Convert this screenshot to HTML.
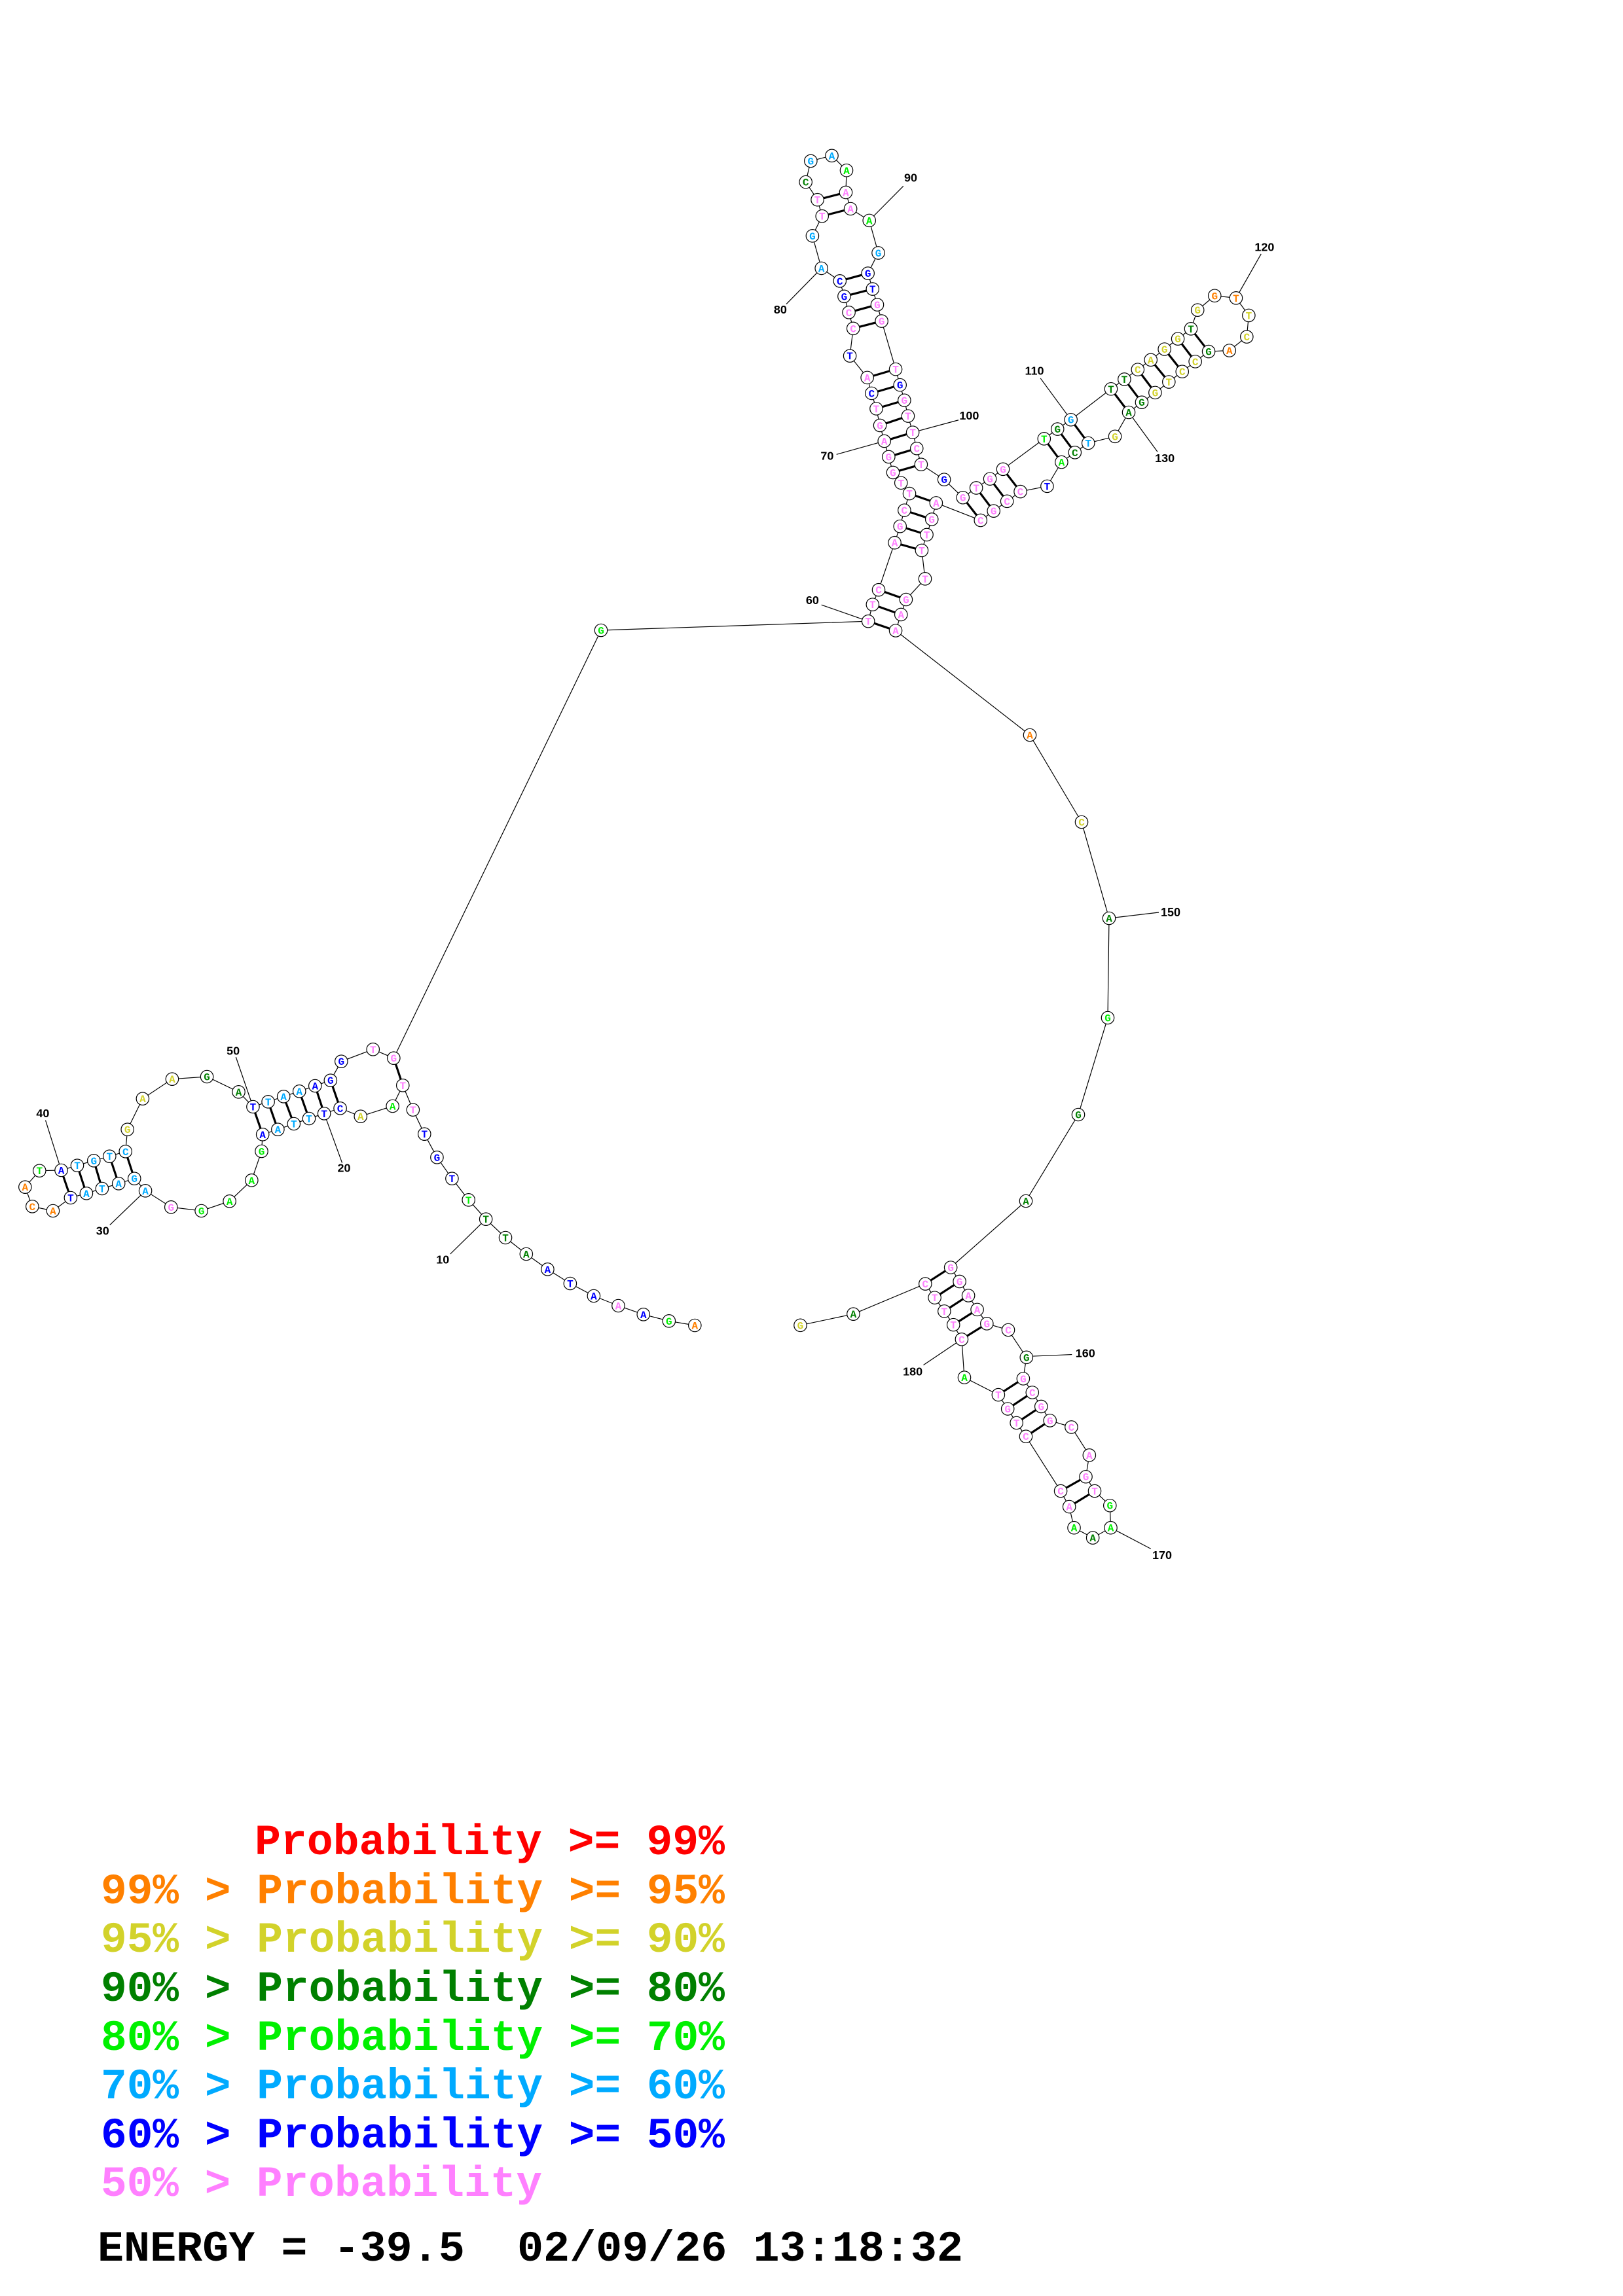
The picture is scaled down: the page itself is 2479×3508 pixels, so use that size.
<!DOCTYPE html>
<html><head><meta charset="utf-8"><style>
html,body{margin:0;padding:0;background:#fff}
svg{display:block}
circle{fill:#fff;stroke:#000;stroke-width:1.2}
.n text{font-family:"Liberation Mono",monospace;font-weight:bold;font-size:16px;text-anchor:middle}
.lb{font-family:"Liberation Sans",sans-serif;font-weight:bold;font-size:18px;text-anchor:middle;fill:#000}
.bb{fill:none;stroke:#000;stroke-width:1.2}
.bd{stroke:#000;stroke-width:3.2}
.ln{stroke:#000;stroke-width:1.2}
.o text{fill:#ff8000}.y text{fill:#d2d22a}.d text{fill:#008000}.g text{fill:#00f000}.l text{fill:#00aaff}.b text{fill:#0000ff}.p text{fill:#ff80ff}
.lg{font-family:"Liberation Mono",monospace;font-weight:bold;font-size:66px}
</style></head><body>
<svg width="2479" height="3508" viewBox="0 0 2479 3508" xmlns="http://www.w3.org/2000/svg">
<rect width="2479" height="3508" fill="#fff"/>

<!-- real-coordinate connectors -->
<polyline class="bb" points="601.3,1616.7 918,963 1326.2,949.2"/>
<polyline class="bb" points="1368.1,963.5 1573,1123 1652,1256 1694,1403 1692,1555 1647,1703 1567,1835 1452,1936.5"/>
<line class="ln" x1="648.3" y1="1732.7" x2="630.8" y2="1695.7"/>
<line class="ln" x1="1694" y1="1403" x2="1770" y2="1394"/>
<text class="lb" x="1788" y="1400">150</text>

<!-- zoom2 region -->
<g transform="translate(1150 200) scale(0.5107)">
<polyline class="bb" vector-effect="non-scaling-stroke" points="345,1467 358,1417 376,1373 424,1232 440,1183 453,1135 468,1085 443,1053 419,1022 406,975 393,928 380,881 369,831 355,785 342,738 290,673 300,591 287,543 273,495 260,449 205,411 178,314 207,255 193,206 158,153 173,90 236,74 280,118 278,184 292,233 348,268 375,365 344,426 358,473 372,520 385,569 427,713 440,760 453,806 464,853 478,902 490,950 503,998 572,1043 628,1097 668,1068 709,1041 748,1012 871,921 911,892 951,864 1071,772 1111,743 1151,714 1190,685 1231,653 1271,622 1310,592 1330,536 1381,493 1445,500 1483,552 1477,616 1425,657 1363,660 1323,690 1284,720 1244,751 1203,783 1163,812 1124,842 1083,914 1003,934 963,962 923,991 880,1063 800,1079 760,1108 720,1137 681,1165 548,1113 535,1162 520,1208 505,1255 515,1340 458,1402 443,1447 427,1495"/>
<g>
<path class="bd" vector-effect="non-scaling-stroke" d="M345,1467L427,1495M358,1417L443,1447M376,1373L458,1402M424,1232L505,1255M440,1183L520,1208M453,1135L535,1162M468,1085L548,1113M419,1022L503,998M406,975L490,950M393,928L478,902M380,881L464,853M369,831L453,806M355,785L440,760M342,738L427,713M300,591L385,569M287,543L372,520M273,495L358,473M260,449L344,426M207,255L292,233M193,206L278,184M628,1097L681,1165M668,1068L720,1137M709,1041L760,1108M748,1012L800,1079M871,921L923,991M911,892L963,962M951,864L1003,934M1071,772L1124,842M1111,743L1163,812M1151,714L1203,783M1190,685L1244,751M1231,653L1284,720M1271,622L1323,690M1310,592L1363,660"/>
<path class="ln" vector-effect="non-scaling-stroke" d="M205,1418L345,1467M250,968L393,928M100,518L205,411M450,165L348,268M615,865L478,902M860,740L951,864M1520,368L1445,500M1210,960L1124,842"/>
</g>
<g transform="translate(178 1416) scale(1.958)"><text class="lb">60</text></g>
<g transform="translate(222 984) scale(1.958)"><text class="lb">70</text></g>
<g transform="translate(82 546) scale(1.958)"><text class="lb">80</text></g>
<g transform="translate(472 152) scale(1.958)"><text class="lb">90</text></g>
<g transform="translate(647 864) scale(1.958)"><text class="lb">100</text></g>
<g transform="translate(842 729) scale(1.958)"><text class="lb">110</text></g>
<g transform="translate(1530 359) scale(1.958)"><text class="lb">120</text></g>
<g transform="translate(1232 991) scale(1.958)"><text class="lb">130</text></g>
<g class="n p" transform="translate(345 1467) scale(1.958)"><circle r="9.7"/><text y="5.5">T</text></g>
<g class="n p" transform="translate(358 1417) scale(1.958)"><circle r="9.7"/><text y="5.5">T</text></g>
<g class="n p" transform="translate(376 1373) scale(1.958)"><circle r="9.7"/><text y="5.5">C</text></g>
<g class="n p" transform="translate(424 1232) scale(1.958)"><circle r="9.7"/><text y="5.5">A</text></g>
<g class="n p" transform="translate(440 1183) scale(1.958)"><circle r="9.7"/><text y="5.5">G</text></g>
<g class="n p" transform="translate(453 1135) scale(1.958)"><circle r="9.7"/><text y="5.5">C</text></g>
<g class="n p" transform="translate(468 1085) scale(1.958)"><circle r="9.7"/><text y="5.5">T</text></g>
<g class="n p" transform="translate(443 1053) scale(1.958)"><circle r="9.7"/><text y="5.5">T</text></g>
<g class="n p" transform="translate(419 1022) scale(1.958)"><circle r="9.7"/><text y="5.5">G</text></g>
<g class="n p" transform="translate(406 975) scale(1.958)"><circle r="9.7"/><text y="5.5">G</text></g>
<g class="n p" transform="translate(393 928) scale(1.958)"><circle r="9.7"/><text y="5.5">A</text></g>
<g class="n p" transform="translate(380 881) scale(1.958)"><circle r="9.7"/><text y="5.5">G</text></g>
<g class="n p" transform="translate(369 831) scale(1.958)"><circle r="9.7"/><text y="5.5">T</text></g>
<g class="n b" transform="translate(355 785) scale(1.958)"><circle r="9.7"/><text y="5.5">C</text></g>
<g class="n p" transform="translate(342 738) scale(1.958)"><circle r="9.7"/><text y="5.5">A</text></g>
<g class="n b" transform="translate(290 673) scale(1.958)"><circle r="9.7"/><text y="5.5">T</text></g>
<g class="n p" transform="translate(300 591) scale(1.958)"><circle r="9.7"/><text y="5.5">C</text></g>
<g class="n p" transform="translate(287 543) scale(1.958)"><circle r="9.7"/><text y="5.5">C</text></g>
<g class="n b" transform="translate(273 495) scale(1.958)"><circle r="9.7"/><text y="5.5">G</text></g>
<g class="n b" transform="translate(260 449) scale(1.958)"><circle r="9.7"/><text y="5.5">C</text></g>
<g class="n l" transform="translate(205 411) scale(1.958)"><circle r="9.7"/><text y="5.5">A</text></g>
<g class="n l" transform="translate(178 314) scale(1.958)"><circle r="9.7"/><text y="5.5">G</text></g>
<g class="n p" transform="translate(207 255) scale(1.958)"><circle r="9.7"/><text y="5.5">T</text></g>
<g class="n p" transform="translate(193 206) scale(1.958)"><circle r="9.7"/><text y="5.5">T</text></g>
<g class="n d" transform="translate(158 153) scale(1.958)"><circle r="9.7"/><text y="5.5">C</text></g>
<g class="n l" transform="translate(173 90) scale(1.958)"><circle r="9.7"/><text y="5.5">G</text></g>
<g class="n l" transform="translate(236 74) scale(1.958)"><circle r="9.7"/><text y="5.5">A</text></g>
<g class="n g" transform="translate(280 118) scale(1.958)"><circle r="9.7"/><text y="5.5">A</text></g>
<g class="n p" transform="translate(278 184) scale(1.958)"><circle r="9.7"/><text y="5.5">A</text></g>
<g class="n p" transform="translate(292 233) scale(1.958)"><circle r="9.7"/><text y="5.5">A</text></g>
<g class="n g" transform="translate(348 268) scale(1.958)"><circle r="9.7"/><text y="5.5">A</text></g>
<g class="n l" transform="translate(375 365) scale(1.958)"><circle r="9.7"/><text y="5.5">G</text></g>
<g class="n b" transform="translate(344 426) scale(1.958)"><circle r="9.7"/><text y="5.5">G</text></g>
<g class="n b" transform="translate(358 473) scale(1.958)"><circle r="9.7"/><text y="5.5">T</text></g>
<g class="n p" transform="translate(372 520) scale(1.958)"><circle r="9.7"/><text y="5.5">G</text></g>
<g class="n p" transform="translate(385 569) scale(1.958)"><circle r="9.7"/><text y="5.5">G</text></g>
<g class="n p" transform="translate(427 713) scale(1.958)"><circle r="9.7"/><text y="5.5">T</text></g>
<g class="n b" transform="translate(440 760) scale(1.958)"><circle r="9.7"/><text y="5.5">G</text></g>
<g class="n p" transform="translate(453 806) scale(1.958)"><circle r="9.7"/><text y="5.5">G</text></g>
<g class="n p" transform="translate(464 853) scale(1.958)"><circle r="9.7"/><text y="5.5">T</text></g>
<g class="n p" transform="translate(478 902) scale(1.958)"><circle r="9.7"/><text y="5.5">T</text></g>
<g class="n p" transform="translate(490 950) scale(1.958)"><circle r="9.7"/><text y="5.5">C</text></g>
<g class="n p" transform="translate(503 998) scale(1.958)"><circle r="9.7"/><text y="5.5">T</text></g>
<g class="n b" transform="translate(572 1043) scale(1.958)"><circle r="9.7"/><text y="5.5">G</text></g>
<g class="n p" transform="translate(628 1097) scale(1.958)"><circle r="9.7"/><text y="5.5">G</text></g>
<g class="n p" transform="translate(668 1068) scale(1.958)"><circle r="9.7"/><text y="5.5">T</text></g>
<g class="n p" transform="translate(709 1041) scale(1.958)"><circle r="9.7"/><text y="5.5">G</text></g>
<g class="n p" transform="translate(748 1012) scale(1.958)"><circle r="9.7"/><text y="5.5">G</text></g>
<g class="n g" transform="translate(871 921) scale(1.958)"><circle r="9.7"/><text y="5.5">T</text></g>
<g class="n d" transform="translate(911 892) scale(1.958)"><circle r="9.7"/><text y="5.5">G</text></g>
<g class="n l" transform="translate(951 864) scale(1.958)"><circle r="9.7"/><text y="5.5">G</text></g>
<g class="n d" transform="translate(1071 772) scale(1.958)"><circle r="9.7"/><text y="5.5">T</text></g>
<g class="n d" transform="translate(1111 743) scale(1.958)"><circle r="9.7"/><text y="5.5">T</text></g>
<g class="n y" transform="translate(1151 714) scale(1.958)"><circle r="9.7"/><text y="5.5">C</text></g>
<g class="n y" transform="translate(1190 685) scale(1.958)"><circle r="9.7"/><text y="5.5">A</text></g>
<g class="n y" transform="translate(1231 653) scale(1.958)"><circle r="9.7"/><text y="5.5">G</text></g>
<g class="n y" transform="translate(1271 622) scale(1.958)"><circle r="9.7"/><text y="5.5">G</text></g>
<g class="n d" transform="translate(1310 592) scale(1.958)"><circle r="9.7"/><text y="5.5">T</text></g>
<g class="n y" transform="translate(1330 536) scale(1.958)"><circle r="9.7"/><text y="5.5">G</text></g>
<g class="n o" transform="translate(1381 493) scale(1.958)"><circle r="9.7"/><text y="5.5">G</text></g>
<g class="n o" transform="translate(1445 500) scale(1.958)"><circle r="9.7"/><text y="5.5">T</text></g>
<g class="n y" transform="translate(1483 552) scale(1.958)"><circle r="9.7"/><text y="5.5">T</text></g>
<g class="n y" transform="translate(1477 616) scale(1.958)"><circle r="9.7"/><text y="5.5">C</text></g>
<g class="n o" transform="translate(1425 657) scale(1.958)"><circle r="9.7"/><text y="5.5">A</text></g>
<g class="n d" transform="translate(1363 660) scale(1.958)"><circle r="9.7"/><text y="5.5">G</text></g>
<g class="n y" transform="translate(1323 690) scale(1.958)"><circle r="9.7"/><text y="5.5">C</text></g>
<g class="n y" transform="translate(1284 720) scale(1.958)"><circle r="9.7"/><text y="5.5">C</text></g>
<g class="n y" transform="translate(1244 751) scale(1.958)"><circle r="9.7"/><text y="5.5">T</text></g>
<g class="n y" transform="translate(1203 783) scale(1.958)"><circle r="9.7"/><text y="5.5">G</text></g>
<g class="n d" transform="translate(1163 812) scale(1.958)"><circle r="9.7"/><text y="5.5">G</text></g>
<g class="n d" transform="translate(1124 842) scale(1.958)"><circle r="9.7"/><text y="5.5">A</text></g>
<g class="n y" transform="translate(1083 914) scale(1.958)"><circle r="9.7"/><text y="5.5">G</text></g>
<g class="n l" transform="translate(1003 934) scale(1.958)"><circle r="9.7"/><text y="5.5">T</text></g>
<g class="n d" transform="translate(963 962) scale(1.958)"><circle r="9.7"/><text y="5.5">C</text></g>
<g class="n g" transform="translate(923 991) scale(1.958)"><circle r="9.7"/><text y="5.5">A</text></g>
<g class="n b" transform="translate(880 1063) scale(1.958)"><circle r="9.7"/><text y="5.5">T</text></g>
<g class="n p" transform="translate(800 1079) scale(1.958)"><circle r="9.7"/><text y="5.5">C</text></g>
<g class="n p" transform="translate(760 1108) scale(1.958)"><circle r="9.7"/><text y="5.5">C</text></g>
<g class="n p" transform="translate(720 1137) scale(1.958)"><circle r="9.7"/><text y="5.5">G</text></g>
<g class="n p" transform="translate(681 1165) scale(1.958)"><circle r="9.7"/><text y="5.5">C</text></g>
<g class="n p" transform="translate(548 1113) scale(1.958)"><circle r="9.7"/><text y="5.5">A</text></g>
<g class="n p" transform="translate(535 1162) scale(1.958)"><circle r="9.7"/><text y="5.5">G</text></g>
<g class="n p" transform="translate(520 1208) scale(1.958)"><circle r="9.7"/><text y="5.5">T</text></g>
<g class="n p" transform="translate(505 1255) scale(1.958)"><circle r="9.7"/><text y="5.5">T</text></g>
<g class="n p" transform="translate(515 1340) scale(1.958)"><circle r="9.7"/><text y="5.5">T</text></g>
<g class="n p" transform="translate(458 1402) scale(1.958)"><circle r="9.7"/><text y="5.5">G</text></g>
<g class="n p" transform="translate(443 1447) scale(1.958)"><circle r="9.7"/><text y="5.5">A</text></g>
<g class="n p" transform="translate(427 1495) scale(1.958)"><circle r="9.7"/><text y="5.5">A</text></g>
</g>

<!-- zoom3 region -->
<g transform="translate(0 1560) scale(0.42141 0.33333)">
<polyline class="bb" vector-effect="non-scaling-stroke" points="1497,407 1460,295 1423,390 1307,437 1233,400 1175,424 1120,447 1065,471 1007,497 952,520 948,597 912,730 832,826 730,870 620,853 527,778 487,722 430,745 370,768 313,790 256,810 192,870 117,850 91,761 143,686 222,684 280,662 340,640 397,620 455,598 462,497 517,356 624,266 750,255 865,325 917,393 972,370 1028,346 1085,322 1142,297 1198,272 1237,185 1352,130 1427,170"/>
<path class="bd" vector-effect="non-scaling-stroke" d="M1460,295L1427,170M1233,400L1198,272M1175,424L1142,297M1120,447L1085,322M1065,471L1028,346M1007,497L972,370M952,520L917,393M487,722L455,598M430,745L397,620M370,768L340,640M313,790L280,662M256,810L222,684"/>
<path class="ln" vector-effect="non-scaling-stroke" d="M855,165L917,393M165,455L222,684M398,935L527,778M1240,650L1175,424"/>
<g transform="translate(845 155) scale(2.373 3)"><text class="lb">50</text></g>
<g transform="translate(155 441) scale(2.373 3)"><text class="lb">40</text></g>
<g transform="translate(372 980) scale(2.373 3)"><text class="lb">30</text></g>
<g transform="translate(1247 692) scale(2.373 3)"><text class="lb">20</text></g>
<g class="n p" transform="translate(1497 407) scale(2.373 3)"><circle r="9.7"/><text y="5.5">T</text></g>
<g class="n p" transform="translate(1460 295) scale(2.373 3)"><circle r="9.7"/><text y="5.5">T</text></g>
<g class="n g" transform="translate(1423 390) scale(2.373 3)"><circle r="9.7"/><text y="5.5">A</text></g>
<g class="n y" transform="translate(1307 437) scale(2.373 3)"><circle r="9.7"/><text y="5.5">A</text></g>
<g class="n b" transform="translate(1233 400) scale(2.373 3)"><circle r="9.7"/><text y="5.5">C</text></g>
<g class="n b" transform="translate(1175 424) scale(2.373 3)"><circle r="9.7"/><text y="5.5">T</text></g>
<g class="n l" transform="translate(1120 447) scale(2.373 3)"><circle r="9.7"/><text y="5.5">T</text></g>
<g class="n l" transform="translate(1065 471) scale(2.373 3)"><circle r="9.7"/><text y="5.5">T</text></g>
<g class="n l" transform="translate(1007 497) scale(2.373 3)"><circle r="9.7"/><text y="5.5">A</text></g>
<g class="n b" transform="translate(952 520) scale(2.373 3)"><circle r="9.7"/><text y="5.5">A</text></g>
<g class="n g" transform="translate(948 597) scale(2.373 3)"><circle r="9.7"/><text y="5.5">G</text></g>
<g class="n g" transform="translate(912 730) scale(2.373 3)"><circle r="9.7"/><text y="5.5">A</text></g>
<g class="n g" transform="translate(832 826) scale(2.373 3)"><circle r="9.7"/><text y="5.5">A</text></g>
<g class="n g" transform="translate(730 870) scale(2.373 3)"><circle r="9.7"/><text y="5.5">G</text></g>
<g class="n p" transform="translate(620 853) scale(2.373 3)"><circle r="9.7"/><text y="5.5">G</text></g>
<g class="n l" transform="translate(527 778) scale(2.373 3)"><circle r="9.7"/><text y="5.5">A</text></g>
<g class="n l" transform="translate(487 722) scale(2.373 3)"><circle r="9.7"/><text y="5.5">G</text></g>
<g class="n l" transform="translate(430 745) scale(2.373 3)"><circle r="9.7"/><text y="5.5">A</text></g>
<g class="n l" transform="translate(370 768) scale(2.373 3)"><circle r="9.7"/><text y="5.5">T</text></g>
<g class="n l" transform="translate(313 790) scale(2.373 3)"><circle r="9.7"/><text y="5.5">A</text></g>
<g class="n b" transform="translate(256 810) scale(2.373 3)"><circle r="9.7"/><text y="5.5">T</text></g>
<g class="n o" transform="translate(192 870) scale(2.373 3)"><circle r="9.7"/><text y="5.5">A</text></g>
<g class="n o" transform="translate(117 850) scale(2.373 3)"><circle r="9.7"/><text y="5.5">C</text></g>
<g class="n o" transform="translate(91 761) scale(2.373 3)"><circle r="9.7"/><text y="5.5">A</text></g>
<g class="n g" transform="translate(143 686) scale(2.373 3)"><circle r="9.7"/><text y="5.5">T</text></g>
<g class="n b" transform="translate(222 684) scale(2.373 3)"><circle r="9.7"/><text y="5.5">A</text></g>
<g class="n l" transform="translate(280 662) scale(2.373 3)"><circle r="9.7"/><text y="5.5">T</text></g>
<g class="n l" transform="translate(340 640) scale(2.373 3)"><circle r="9.7"/><text y="5.5">G</text></g>
<g class="n l" transform="translate(397 620) scale(2.373 3)"><circle r="9.7"/><text y="5.5">T</text></g>
<g class="n l" transform="translate(455 598) scale(2.373 3)"><circle r="9.7"/><text y="5.5">C</text></g>
<g class="n y" transform="translate(462 497) scale(2.373 3)"><circle r="9.7"/><text y="5.5">G</text></g>
<g class="n y" transform="translate(517 356) scale(2.373 3)"><circle r="9.7"/><text y="5.5">A</text></g>
<g class="n y" transform="translate(624 266) scale(2.373 3)"><circle r="9.7"/><text y="5.5">A</text></g>
<g class="n d" transform="translate(750 255) scale(2.373 3)"><circle r="9.7"/><text y="5.5">G</text></g>
<g class="n d" transform="translate(865 325) scale(2.373 3)"><circle r="9.7"/><text y="5.5">A</text></g>
<g class="n b" transform="translate(917 393) scale(2.373 3)"><circle r="9.7"/><text y="5.5">T</text></g>
<g class="n l" transform="translate(972 370) scale(2.373 3)"><circle r="9.7"/><text y="5.5">T</text></g>
<g class="n l" transform="translate(1028 346) scale(2.373 3)"><circle r="9.7"/><text y="5.5">A</text></g>
<g class="n l" transform="translate(1085 322) scale(2.373 3)"><circle r="9.7"/><text y="5.5">A</text></g>
<g class="n b" transform="translate(1142 297) scale(2.373 3)"><circle r="9.7"/><text y="5.5">A</text></g>
<g class="n b" transform="translate(1198 272) scale(2.373 3)"><circle r="9.7"/><text y="5.5">G</text></g>
<g class="n b" transform="translate(1237 185) scale(2.373 3)"><circle r="9.7"/><text y="5.5">G</text></g>
<g class="n p" transform="translate(1352 130) scale(2.373 3)"><circle r="9.7"/><text y="5.5">T</text></g>
<g class="n p" transform="translate(1427 170) scale(2.373 3)"><circle r="9.7"/><text y="5.5">G</text></g>
</g>

<!-- zoom4 region -->
<g transform="translate(500 1560) scale(0.38314 0.33333)">
<polyline class="bb" vector-effect="non-scaling-stroke" points="1465,1395 1362,1375 1260,1345 1160,1305 1062,1260 968,1203 878,1138 793,1068 710,993 632,908 563,820 497,722 437,625 387,518"/>
<path class="ln" vector-effect="non-scaling-stroke" d="M490,1068L632,908"/>
<g transform="translate(460 1112) scale(2.61 3)"><text class="lb">10</text></g>
<g class="n o" transform="translate(1465 1395) scale(2.61 3)"><circle r="9.7"/><text y="5.5">A</text></g>
<g class="n g" transform="translate(1362 1375) scale(2.61 3)"><circle r="9.7"/><text y="5.5">G</text></g>
<g class="n b" transform="translate(1260 1345) scale(2.61 3)"><circle r="9.7"/><text y="5.5">A</text></g>
<g class="n p" transform="translate(1160 1305) scale(2.61 3)"><circle r="9.7"/><text y="5.5">A</text></g>
<g class="n b" transform="translate(1062 1260) scale(2.61 3)"><circle r="9.7"/><text y="5.5">A</text></g>
<g class="n b" transform="translate(968 1203) scale(2.61 3)"><circle r="9.7"/><text y="5.5">T</text></g>
<g class="n b" transform="translate(878 1138) scale(2.61 3)"><circle r="9.7"/><text y="5.5">A</text></g>
<g class="n d" transform="translate(793 1068) scale(2.61 3)"><circle r="9.7"/><text y="5.5">A</text></g>
<g class="n d" transform="translate(710 993) scale(2.61 3)"><circle r="9.7"/><text y="5.5">T</text></g>
<g class="n d" transform="translate(632 908) scale(2.61 3)"><circle r="9.7"/><text y="5.5">T</text></g>
<g class="n g" transform="translate(563 820) scale(2.61 3)"><circle r="9.7"/><text y="5.5">T</text></g>
<g class="n b" transform="translate(497 722) scale(2.61 3)"><circle r="9.7"/><text y="5.5">T</text></g>
<g class="n b" transform="translate(437 625) scale(2.61 3)"><circle r="9.7"/><text y="5.5">G</text></g>
<g class="n b" transform="translate(387 518) scale(2.61 3)"><circle r="9.7"/><text y="5.5">T</text></g>
</g>

<!-- zoom5 region -->
<g transform="translate(1200 1880) scale(0.40866 0.35765)">
<polyline class="bb" vector-effect="non-scaling-stroke" points="617,158 650,218 683,278 716,338 752,398 832,425 900,542 888,633 922,692 955,752 988,812 1068,840 1135,960 1122,1052 1155,1113 1212,1175 1215,1270 1148,1313 1078,1270 1060,1180 1028,1113 898,880 863,822 830,762 795,702 668,628 658,465 627,403 593,345 557,287 522,228 253,357 55,405"/>
<path class="bd" vector-effect="non-scaling-stroke" d="M617,158L522,228M650,218L557,287M683,278L593,345M716,338L627,403M752,398L658,465M888,633L795,702M922,692L830,762M955,752L863,822M988,812L898,880M1122,1052L1028,1113M1155,1113L1060,1180"/>
<path class="ln" vector-effect="non-scaling-stroke" d="M925,537L1070,530M515,575L658,465M1365,1360L1215,1270"/>
<g transform="translate(1120 541) scale(2.447 2.796)"><text class="lb">160</text></g>
<g transform="translate(475 619) scale(2.447 2.796)"><text class="lb">180</text></g>
<g transform="translate(1407 1404) scale(2.447 2.796)"><text class="lb">170</text></g>
<g class="n p" transform="translate(617 158) scale(2.447 2.796)"><circle r="9.7"/><text y="5.5">G</text></g>
<g class="n p" transform="translate(650 218) scale(2.447 2.796)"><circle r="9.7"/><text y="5.5">G</text></g>
<g class="n p" transform="translate(683 278) scale(2.447 2.796)"><circle r="9.7"/><text y="5.5">A</text></g>
<g class="n p" transform="translate(716 338) scale(2.447 2.796)"><circle r="9.7"/><text y="5.5">A</text></g>
<g class="n p" transform="translate(752 398) scale(2.447 2.796)"><circle r="9.7"/><text y="5.5">G</text></g>
<g class="n p" transform="translate(832 425) scale(2.447 2.796)"><circle r="9.7"/><text y="5.5">C</text></g>
<g class="n d" transform="translate(900 542) scale(2.447 2.796)"><circle r="9.7"/><text y="5.5">G</text></g>
<g class="n p" transform="translate(888 633) scale(2.447 2.796)"><circle r="9.7"/><text y="5.5">G</text></g>
<g class="n p" transform="translate(922 692) scale(2.447 2.796)"><circle r="9.7"/><text y="5.5">C</text></g>
<g class="n p" transform="translate(955 752) scale(2.447 2.796)"><circle r="9.7"/><text y="5.5">G</text></g>
<g class="n p" transform="translate(988 812) scale(2.447 2.796)"><circle r="9.7"/><text y="5.5">G</text></g>
<g class="n p" transform="translate(1068 840) scale(2.447 2.796)"><circle r="9.7"/><text y="5.5">C</text></g>
<g class="n p" transform="translate(1135 960) scale(2.447 2.796)"><circle r="9.7"/><text y="5.5">A</text></g>
<g class="n p" transform="translate(1122 1052) scale(2.447 2.796)"><circle r="9.7"/><text y="5.5">G</text></g>
<g class="n p" transform="translate(1155 1113) scale(2.447 2.796)"><circle r="9.7"/><text y="5.5">T</text></g>
<g class="n g" transform="translate(1212 1175) scale(2.447 2.796)"><circle r="9.7"/><text y="5.5">G</text></g>
<g class="n g" transform="translate(1215 1270) scale(2.447 2.796)"><circle r="9.7"/><text y="5.5">A</text></g>
<g class="n d" transform="translate(1148 1313) scale(2.447 2.796)"><circle r="9.7"/><text y="5.5">A</text></g>
<g class="n g" transform="translate(1078 1270) scale(2.447 2.796)"><circle r="9.7"/><text y="5.5">A</text></g>
<g class="n p" transform="translate(1060 1180) scale(2.447 2.796)"><circle r="9.7"/><text y="5.5">A</text></g>
<g class="n p" transform="translate(1028 1113) scale(2.447 2.796)"><circle r="9.7"/><text y="5.5">C</text></g>
<g class="n p" transform="translate(898 880) scale(2.447 2.796)"><circle r="9.7"/><text y="5.5">C</text></g>
<g class="n p" transform="translate(863 822) scale(2.447 2.796)"><circle r="9.7"/><text y="5.5">T</text></g>
<g class="n p" transform="translate(830 762) scale(2.447 2.796)"><circle r="9.7"/><text y="5.5">G</text></g>
<g class="n p" transform="translate(795 702) scale(2.447 2.796)"><circle r="9.7"/><text y="5.5">T</text></g>
<g class="n g" transform="translate(668 628) scale(2.447 2.796)"><circle r="9.7"/><text y="5.5">A</text></g>
<g class="n p" transform="translate(658 465) scale(2.447 2.796)"><circle r="9.7"/><text y="5.5">C</text></g>
<g class="n p" transform="translate(627 403) scale(2.447 2.796)"><circle r="9.7"/><text y="5.5">T</text></g>
<g class="n p" transform="translate(593 345) scale(2.447 2.796)"><circle r="9.7"/><text y="5.5">T</text></g>
<g class="n p" transform="translate(557 287) scale(2.447 2.796)"><circle r="9.7"/><text y="5.5">T</text></g>
<g class="n p" transform="translate(522 228) scale(2.447 2.796)"><circle r="9.7"/><text y="5.5">C</text></g>
<g class="n d" transform="translate(253 357) scale(2.447 2.796)"><circle r="9.7"/><text y="5.5">A</text></g>
<g class="n y" transform="translate(55 405) scale(2.447 2.796)"><circle r="9.7"/><text y="5.5">G</text></g>
</g>

<!-- lone nodes (real coords) -->
<g class="n g" transform="translate(918 963)"><circle r="9.7"/><text y="5.5">G</text></g>
<g class="n o" transform="translate(1573 1123)"><circle r="9.7"/><text y="5.5">A</text></g>
<g class="n y" transform="translate(1652 1256)"><circle r="9.7"/><text y="5.5">C</text></g>
<g class="n d" transform="translate(1694 1403)"><circle r="9.7"/><text y="5.5">A</text></g>
<g class="n g" transform="translate(1692 1555)"><circle r="9.7"/><text y="5.5">G</text></g>
<g class="n d" transform="translate(1647 1703)"><circle r="9.7"/><text y="5.5">G</text></g>
<g class="n d" transform="translate(1567 1835)"><circle r="9.7"/><text y="5.5">A</text></g>

<!-- legend -->
<text class="lg" x="389" y="2833" fill="#ff0000" textLength="718" lengthAdjust="spacingAndGlyphs">Probability &gt;= 99%</text>
<text class="lg" x="154" y="2908" fill="#ff8000" textLength="953" lengthAdjust="spacingAndGlyphs">99% &gt; Probability &gt;= 95%</text>
<text class="lg" x="154" y="2982" fill="#d2d22a" textLength="953" lengthAdjust="spacingAndGlyphs">95% &gt; Probability &gt;= 90%</text>
<text class="lg" x="154" y="3057" fill="#008000" textLength="953" lengthAdjust="spacingAndGlyphs">90% &gt; Probability &gt;= 80%</text>
<text class="lg" x="154" y="3132" fill="#00f000" textLength="953" lengthAdjust="spacingAndGlyphs">80% &gt; Probability &gt;= 70%</text>
<text class="lg" x="154" y="3206" fill="#00aaff" textLength="953" lengthAdjust="spacingAndGlyphs">70% &gt; Probability &gt;= 60%</text>
<text class="lg" x="154" y="3281" fill="#0000ff" textLength="953" lengthAdjust="spacingAndGlyphs">60% &gt; Probability &gt;= 50%</text>
<text class="lg" x="154" y="3355" fill="#ff80ff" textLength="674" lengthAdjust="spacingAndGlyphs">50% &gt; Probability</text>
<text class="lg" x="149" y="3454" fill="#000" textLength="1322" lengthAdjust="spacingAndGlyphs" xml:space="preserve">ENERGY = -39.5  02/09/26 13:18:32</text>
</svg>
</body></html>
